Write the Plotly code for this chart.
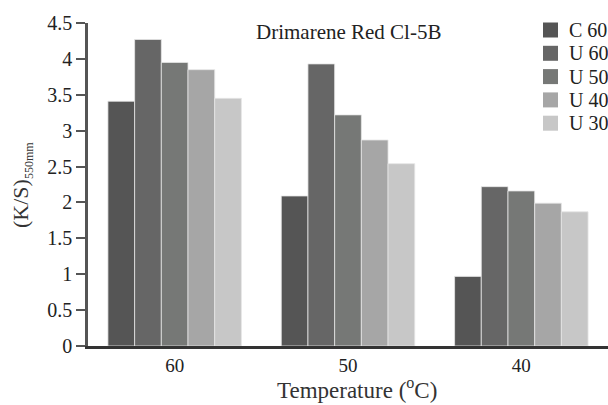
import plotly.graph_objects as go

categories = ["60", "50", "40"]
series_names = ["C 60", "U 60", "U 50", "U 40", "U 30"]
c60 = [3.41, 2.09, 0.97]
u60 = [4.27, 3.93, 2.22]
u50 = [3.95, 3.22, 2.16]
u40 = [3.85, 2.87, 1.99]
u30 = [3.45, 2.54, 1.87]
series_values = [c60, u60, u50, u40, u30]
colors = ["#555555", "#666666", "#767876", "#a6a6a6", "#c7c7c7"]
y_ticks = [0, 0.5, 1, 1.5, 2, 2.5, 3, 3.5, 4, 4.5]
y_tick_labels = ["0", "0.5", "1", "1.5", "2", "2.5", "3", "3.5", "4", "4.5"]

FONT = "Liberation Serif"
TXT = "#222222"

# plot area in pixels
L, R, T, B = 88, 0, 23, 59
W, H = 608, 405
PW, PH = W - L - R, H - T - B


def px(x):
    return (x - L) / PW


def py(y):
    return (H - B - y) / PH


fig = go.Figure()
for name, vals, col in zip(series_names, series_values, colors):
    fig.add_trace(go.Bar(
        x=categories, y=vals, name=name,
        marker=dict(color=col, line=dict(color="#e6e6e6", width=0.8)),
    ))

annotations = [
    dict(text="Drimarene Red Cl-5B", xref="paper", yref="paper",
         x=px(348), y=py(32), xanchor="center", yanchor="middle",
         showarrow=False, font=dict(size=21, family=FONT, color=TXT)),
    dict(text="Temperature (<sup>o</sup>C)", xref="paper", yref="paper",
         x=px(357), y=py(388), xanchor="center", yanchor="middle",
         showarrow=False, font=dict(size=23, family=FONT, color="#333333")),
    dict(text="(K/S)<sub><span style='font-size:12px'>550mm</span></sub>", xref="paper", yref="paper",
         x=px(22), y=py(185), xanchor="center", yanchor="middle",
         textangle=-90, showarrow=False, font=dict(size=22, family=FONT, color="#333333")),
]
shapes = []
row0, row_gap = 30, 23.3
for i, (name, col) in enumerate(zip(series_names, colors)):
    cy = row0 + i * row_gap
    shapes.append(dict(type="rect", xref="paper", yref="paper",
                       x0=px(543), x1=px(558), y0=py(cy + 7.5), y1=py(cy - 7.5),
                       fillcolor=col, line=dict(width=0)))
    annotations.append(dict(text=name, xref="paper", yref="paper",
                            x=px(567), y=py(cy), xanchor="left", yanchor="middle",
                            showarrow=False, font=dict(size=20, family=FONT, color=TXT)))

fig.update_layout(
    width=W, height=H,
    margin=dict(l=L, r=R, t=T, b=B),
    paper_bgcolor="white", plot_bgcolor="white",
    barmode="group", bargap=0.23, bargroupgap=0,
    font=dict(family=FONT, size=19, color=TXT),
    showlegend=False,
    xaxis=dict(
        type="category", showgrid=False, zeroline=False,
        showline=True, linecolor="#333333", linewidth=3,
        ticks="", tickfont=dict(size=19, family=FONT, color=TXT),
        range=[-0.5, 2.5],
    ),
    yaxis=dict(
        range=[0, 4.5], tickvals=y_ticks, ticktext=y_tick_labels,
        showgrid=False, zeroline=False,
        showline=True, linecolor="#555555", linewidth=2.5,
        ticks="outside", ticklen=9, tickwidth=2, tickcolor="#555555",
        tickfont=dict(size=20, family=FONT, color=TXT),
    ),
    annotations=annotations,
    shapes=shapes,
)

fig.write_html("out.html")
